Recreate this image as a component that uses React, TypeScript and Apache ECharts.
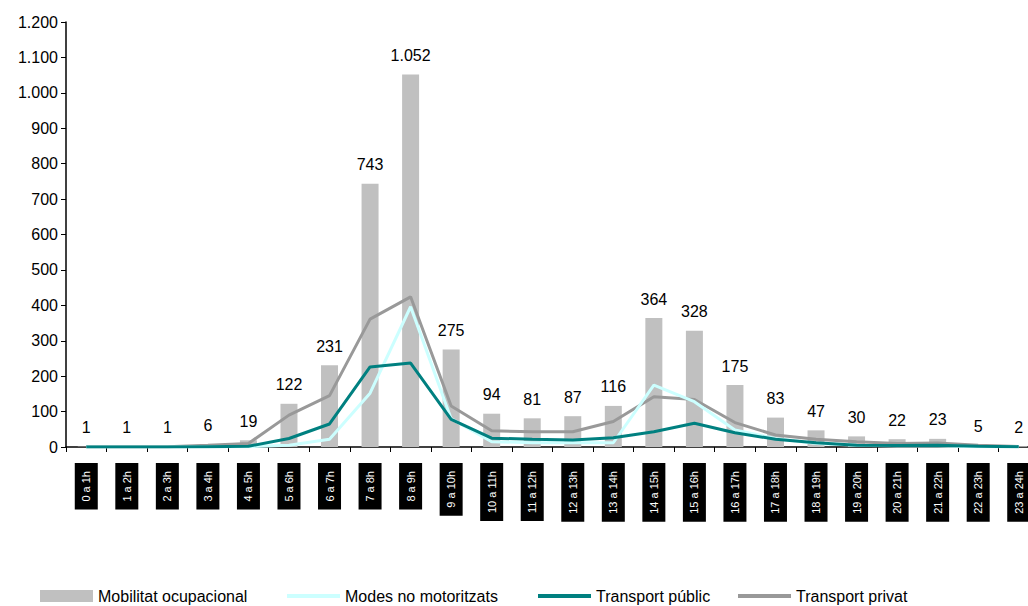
import React, { useEffect, useRef } from "react";
import * as echarts from "echarts";

const categories = [
  "0 a 1h", "1 a 2h", "2 a 3h", "3 a 4h", "4 a 5h", "5 a 6h", "6 a 7h", "7 a 8h",
  "8 a 9h", "9 a 10h", "10 a 11h", "11 a 12h", "12 a 13h", "13 a 14h", "14 a 15h",
  "15 a 16h", "16 a 17h", "17 a 18h", "18 a 19h", "19 a 20h", "20 a 21h", "21 a 22h",
  "22 a 23h", "23 a 24h",
];
const mobilitatOcupacional = [1, 1, 1, 6, 19, 122, 231, 743, 1052, 275, 94, 81, 87, 116, 364, 328, 175, 83, 47, 30, 22, 23, 5, 2];
const modesNoMotoritzats = [0, 0, 0, 0, 1, 5, 22, 152, 396, 80, 15, 12, 12, 12, 175, 128, 48, 24, 10, 5, 3, 3, 1, 0];
const transportPublic = [0, 0, 0, 1, 2, 24, 65, 226, 237, 78, 25, 22, 20, 26, 43, 67, 40, 22, 12, 5, 4, 5, 2, 1];
const transportPrivat = [1, 1, 1, 5, 10, 90, 145, 361, 424, 116, 46, 43, 43, 72, 142, 134, 69, 34, 22, 15, 10, 11, 5, 1];

const seriesNames = ["Mobilitat ocupacional", "Modes no motoritzats", "Transport públic", "Transport privat"];

const fmt = (v: number) => String(v).replace(/\B(?=(\d{3})+(?!\d))/g, ".");
const FONT = "'Liberation Sans', Arial, sans-serif";
const LINE_ICON = "path://M0,0 L53,0 L53,4 L0,4 Z";
const legendLefts = [35, 282, 533, 733];

export default function App() {
  const ref = useRef<HTMLDivElement>(null);
  useEffect(() => {
    if (!ref.current) return;
    const chart = echarts.init(ref.current, undefined, { renderer: "svg" });
    chart.setOption({
      animation: false,
      textStyle: { fontFamily: FONT },
      grid: { left: 66, width: 973, top: 22, height: 425, containLabel: false, outerBoundsMode: "none" },
      legend: seriesNames.map((name, i) => ({
        left: legendLefts[i],
        top: 583,
        itemWidth: 53,
        itemHeight: 12,
        textStyle: { fontSize: 16, color: "#000", fontFamily: FONT },
        data: [{ name, icon: i === 0 ? "rect" : LINE_ICON }],
      })),
      xAxis: {
        type: "category",
        data: categories,
        boundaryGap: true,
        axisLine: { lineStyle: { color: "#000", width: 1.5 } },
        axisTick: { show: true, length: 5, alignWithLabel: false, lineStyle: { color: "#000" } },
        axisLabel: {
          interval: 0,
          rotate: 90,
          margin: 16,
          color: "#fff",
          backgroundColor: "#000",
          padding: [5, 8, 5, 8],
          lineHeight: 13,
          fontSize: 11,
          fontFamily: FONT,
        },
        splitLine: { show: false },
      },
      yAxis: {
        type: "value",
        min: 0,
        max: 1200,
        interval: 100,
        axisLine: { show: true, lineStyle: { color: "#000", width: 1.5 } },
        axisTick: { show: true, length: 5, lineStyle: { color: "#000" } },
        axisLabel: { color: "#000", fontSize: 16, margin: 8, formatter: (v: number) => fmt(v), fontFamily: FONT },
        splitLine: { show: false },
      },
      series: [
        {
          name: seriesNames[0],
          type: "bar",
          data: mobilitatOcupacional,
          barWidth: 17,
          itemStyle: { color: "#C0C0C0" },
          label: {
            show: true,
            position: "top",
            distance: 11,
            color: "#000",
            fontSize: 16,
            fontFamily: FONT,
            formatter: (p: any) => fmt(p.value),
          },
          z: 1,
        },
        {
          name: seriesNames[1],
          type: "line",
          data: modesNoMotoritzats,
          symbol: "none",
          lineStyle: { color: "#CCFFFF", width: 3 },
          itemStyle: { color: "#CCFFFF" },
          z: 3,
        },
        {
          name: seriesNames[2],
          type: "line",
          data: transportPublic,
          symbol: "none",
          lineStyle: { color: "#008080", width: 3 },
          itemStyle: { color: "#008080" },
          z: 4,
        },
        {
          name: seriesNames[3],
          type: "line",
          data: transportPrivat,
          symbol: "none",
          lineStyle: { color: "#999999", width: 3 },
          itemStyle: { color: "#999999" },
          z: 2,
        },
      ],
    });
    return () => chart.dispose();
  }, []);
  return (
    <div
      ref={ref}
      style={{ position: "absolute", left: 0, top: 0, width: 1028, height: 606 }}
    />
  );
}
